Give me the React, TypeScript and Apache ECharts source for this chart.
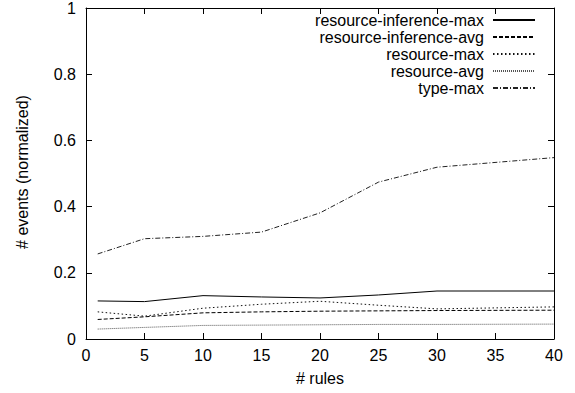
import React, { useEffect, useRef } from "react";
import * as echarts from "echarts";

const xs = [1, 5, 10, 15, 20, 25, 30, 40];
const resourceInferenceMax = [0.115, 0.113, 0.131, 0.127, 0.124, 0.133, 0.145, 0.145];
const resourceInferenceAvg = [0.059, 0.067, 0.079, 0.082, 0.084, 0.085, 0.086, 0.087];
const resourceMax = [0.082, 0.069, 0.093, 0.105, 0.114, 0.102, 0.091, 0.097];
const resourceAvg = [0.03, 0.035, 0.041, 0.042, 0.043, 0.044, 0.044, 0.045];
const typeMax = [0.257, 0.303, 0.31, 0.323, 0.381, 0.474, 0.519, 0.548];

const seriesNames = [
  "resource-inference-max",
  "resource-inference-avg",
  "resource-max",
  "resource-avg",
  "type-max",
];
const xTitle = "# rules";
const yTitle = "# events (normalized)";

const FONT = "Liberation Sans, Arial, Helvetica, sans-serif";

const mkLine = () => ({ show: true, onZero: false, lineStyle: { color: "#000", width: 1 } });
const mkTick = () => ({ show: true, inside: true, length: 6, lineStyle: { color: "#000", width: 1 } });

export default function App() {
  const ref = useRef<HTMLDivElement>(null);
  useEffect(() => {
    if (!ref.current) return;
    const chart = echarts.init(ref.current, null, { renderer: "svg" });
    const pair = (ys: number[]) => xs.map((x, i) => [x, ys[i]]);
    const styles = [
      { color: "#000", type: "solid" as any },
      { color: "#000", type: [4, 2] },
      { color: "#111", type: [1.5, 2.5] },
      { color: "#555", type: [1, 1] },
      { color: "#222", type: [5, 2, 1, 2] },
    ];
    const datas = [resourceInferenceMax, resourceInferenceAvg, resourceMax, resourceAvg, typeMax];
    chart.setOption({
      animation: false,
      textStyle: { fontFamily: FONT },
      grid: { left: 86, right: 21, top: 6, bottom: 54 },
      graphic: [
        {
          type: "text",
          silent: true,
          x: 320,
          y: 378,
          style: {
            text: xTitle,
            font: `16px ${FONT}`,
            fill: "#000",
            align: "center",
            verticalAlign: "middle",
            textAlign: "center",
            textVerticalAlign: "middle",
          },
        },
        {
          type: "text",
          silent: true,
          x: 22,
          y: 172,
          rotation: Math.PI / 2,
          style: {
            text: yTitle,
            font: `16px ${FONT}`,
            fill: "#000",
            align: "center",
            verticalAlign: "middle",
            textAlign: "center",
            textVerticalAlign: "middle",
          },
        },
      ],
      legend: {
        orient: "vertical",
        right: 34,
        top: 7,
        align: "right",
        itemWidth: 42,
        itemHeight: 14,
        itemGap: 1,
        data: seriesNames,
        itemStyle: { color: "transparent", borderColor: "transparent", borderWidth: 0 },
        textStyle: { fontFamily: FONT, fontSize: 16, color: "#000", padding: [0, 4, 0, 0] },
        selectedMode: false,
      },
      xAxis: [
        {
          type: "value",
          min: 0,
          max: 40,
          interval: 5,
          position: "bottom",
          axisLine: mkLine(),
          axisTick: mkTick(),
          splitLine: { show: false },
          axisLabel: { fontFamily: FONT, fontSize: 16, color: "#000", margin: 8 },
        },
        {
          type: "value",
          min: 0,
          max: 40,
          interval: 5,
          position: "top",
          axisLine: mkLine(),
          axisTick: mkTick(),
          splitLine: { show: false },
          axisLabel: { show: false },
        },
      ],
      yAxis: [
        {
          type: "value",
          min: 0,
          max: 1,
          interval: 0.2,
          position: "left",
          axisLine: mkLine(),
          axisTick: mkTick(),
          splitLine: { show: false },
          axisLabel: { fontFamily: FONT, fontSize: 16, color: "#000", margin: 10 },
        },
        {
          type: "value",
          min: 0,
          max: 1,
          interval: 0.2,
          position: "right",
          axisLine: mkLine(),
          axisTick: mkTick(),
          splitLine: { show: false },
          axisLabel: { show: false },
        },
      ],
      series: seriesNames.map((name, i) => ({
        name,
        type: "line",
        xAxisIndex: 0,
        yAxisIndex: 0,
        data: pair(datas[i]),
        symbol: "none",
        showSymbol: false,
        lineStyle: { width: 1, color: styles[i].color, type: styles[i].type },
        itemStyle: { color: styles[i].color },
      })),
    });
    return () => chart.dispose();
  }, []);
  return <div ref={ref} style={{ width: 575, height: 393, position: "absolute", left: 0, top: 0 }} />;
}
